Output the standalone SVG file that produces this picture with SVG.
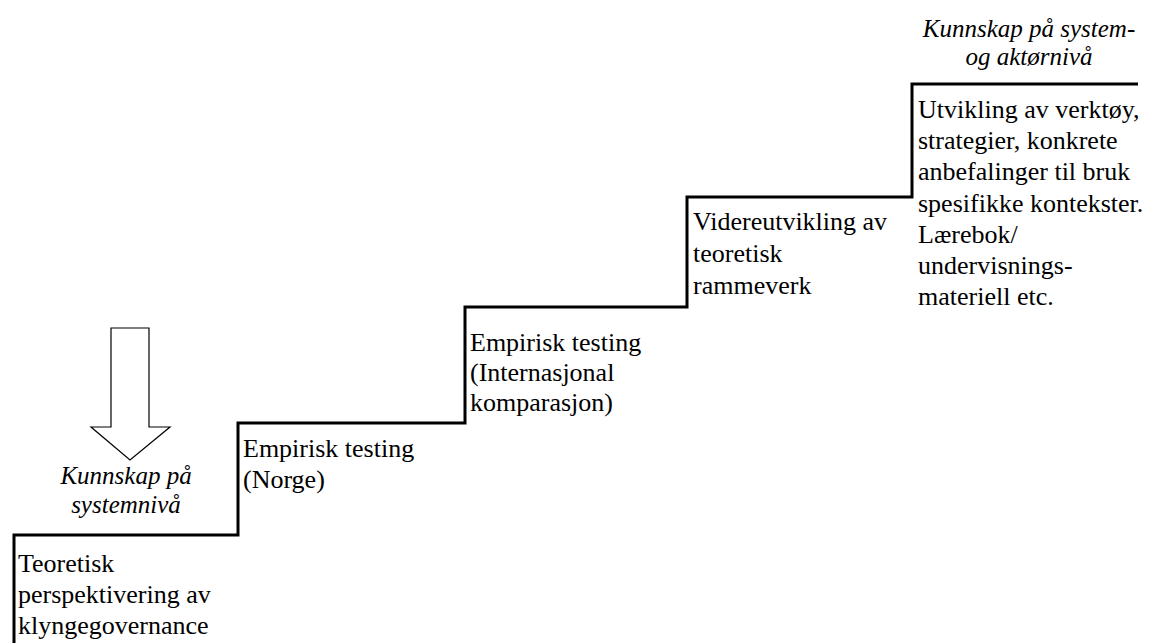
<svg xmlns="http://www.w3.org/2000/svg" width="1151" height="643" viewBox="0 0 1151 643">
<style>
.t{font-size:26px;fill:#000}
.i{font-size:25px;font-style:italic;fill:#000;text-anchor:middle}
.stair{fill:none;stroke:#000;stroke-width:3;stroke-linejoin:miter}
</style>
<rect width="1151" height="643" fill="#fff"/>
<g id="connectors">
<polyline class="stair" points="14,643 14,535 238,535 238,423 465,423 465,307 687,307 687,197 912,197 912,84 1138,84"/>
<polygon id="arrow" points="111,328 149,328 149,427 170,427 130,460 91,427 111,427" fill="#fff" stroke="#000" stroke-width="1.2"/>
</g>
<g font-family="'Liberation Serif', 'Times New Roman', 'DejaVu Serif', serif">
<g id="label-left">
<text class="i" x="126" y="484">Kunnskap på</text>
<text class="i" x="126" y="513">systemnivå</text>
</g>
<g id="label-right">
<text class="i" x="1029" y="37">Kunnskap på system-</text>
<text class="i" x="1029" y="65">og aktørnivå</text>
</g>
<g id="step1">
<text class="t" x="18" y="572">Teoretisk</text>
<text class="t" x="18" y="603">perspektivering av</text>
<text class="t" x="18" y="634">klyngegovernance</text>
</g>
<g id="step2">
<text class="t" x="243" y="457">Empirisk testing</text>
<text class="t" x="243" y="488">(Norge)</text>
</g>
<g id="step3">
<text class="t" x="470" y="351">Empirisk testing</text>
<text class="t" x="470" y="381">(Internasjonal</text>
<text class="t" x="470" y="411">komparasjon)</text>
</g>
<g id="step4">
<text class="t" x="693" y="230">Videreutvikling av</text>
<text class="t" x="693" y="262">teoretisk</text>
<text class="t" x="693" y="294">rammeverk</text>
</g>
<g id="step5">
<text class="t" x="918" y="118">Utvikling av verktøy,</text>
<text class="t" x="918" y="149">strategier, konkrete</text>
<text class="t" x="918" y="180">anbefalinger til bruk</text>
<text class="t" x="918" y="212">spesifikke kontekster.</text>
<text class="t" x="918" y="243">Lærebok/</text>
<text class="t" x="918" y="274">undervisnings-</text>
<text class="t" x="918" y="305">materiell etc.</text>
</g>
</g>
</svg>
